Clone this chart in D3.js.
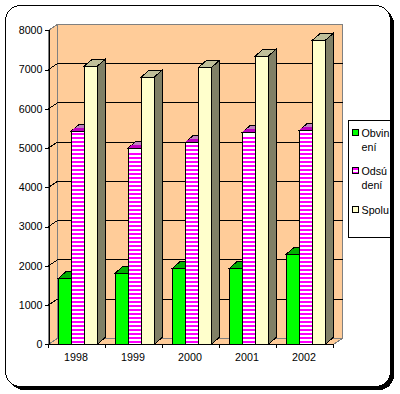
<!DOCTYPE html>
<html>
<head>
<meta charset="utf-8">
<script src="https://cdn.jsdelivr.net/npm/d3@7"></script>
<style>
  html, body { margin: 0; padding: 0; background: #fff; }
  svg { display: block; shape-rendering: crispEdges; }
  text { font-family: "Liberation Sans", Arial, sans-serif; font-size: 10.7px; fill: #000; }
</style>
</head>
<body>
<div class="canvas"></div>
<script>
// data
const years = ['1998', '1999', '2000', '2001', '2002'];
const seriesNames = ['Obvinení', 'Odsúdení', 'Spolu'];
const obvineni = [1680, 1815, 1935, 1935, 2295];
const odsudeni = [5430, 5000, 5145, 5400, 5450];
const spolu = [7085, 6810, 7050, 7345, 7745];
const yTicks = [0, 1000, 2000, 3000, 4000, 5000, 6000, 7000, 8000];

const svg = d3.select('.canvas')
  .append('svg')
    .attr('width', 400)
    .attr('height', 394);

// outer frame with its heavy shadow
svg.append('rect')
  .attr('x', 9).attr('y', 9)
  .attr('width', 385).attr('height', 381)
  .attr('rx', 15)
  .attr('fill', '#000');
svg.append('rect')
  .attr('x', 5.5).attr('y', 5.5)
  .attr('width', 385).attr('height', 381)
  .attr('rx', 15)
  .attr('fill', '#fff')
  .attr('stroke', '#000');

// 3d offset between the front plane and the back wall
const depthX = 9;
const depthY = 6;
const barDepthX = 8;
const barDepthY = 7;

const x = d3.scaleBand()
  .domain(years)
  .range([48.5, 333.5]);

const x1 = d3.scaleBand()
  .domain(seriesNames)
  .range([0, 39])
  .paddingInner(0);

const y = d3.scaleLinear()
  .domain([0, 8000])
  .range([344.3, 30.3]);

const graph = svg.append('g');
const line = d3.line();
const [x0, xEnd] = x.range();
const [yBase, yTop] = y.range();

// walls
graph.append('path')
  .attr('d', line([[x0 + depthX, yTop - depthY], [xEnd + depthX, yTop - depthY],
    [xEnd + depthX, yBase - depthY], [x0 + depthX, yBase - depthY]]) + 'Z')
  .attr('fill', '#ffcc99')
  .attr('stroke', '#808080');
graph.append('path')
  .attr('d', line([[x0, yTop], [x0 + depthX, yTop - depthY],
    [x0 + depthX, yBase - depthY], [x0, yBase]]) + 'Z')
  .attr('fill', '#ffcc99')
  .attr('stroke', '#808080');
graph.append('path')
  .attr('d', line([[x0, yBase], [x0 + depthX, yBase - depthY],
    [xEnd + depthX, yBase - depthY], [xEnd, yBase]]) + 'Z')
  .attr('fill', '#ffcc99')
  .attr('stroke', '#808080');

// gridlines on the walls
const grid = yTicks.slice(1, -1);
graph.selectAll('.grid')
  .data(grid)
  .enter().append('path')
    .attr('class', 'grid')
    .attr('fill', 'none')
    .attr('stroke', '#000')
    .attr('d', d => line([[x0, y(d)], [x0 + depthX, y(d) - depthY], [xEnd + depthX, y(d) - depthY]]));

// bars, left to right so each one covers the side of the one before
const seriesValues = [obvineni, odsudeni, spolu];
const fronts = ['#00ff00', '#fff', '#ffffcc'];
const tops = ['#00b000', '#bf80bf', '#bfbf99'];
const sides = ['#009900', '#990099', '#808066'];

const barData = [];
years.forEach((yr, i) => {
  seriesNames.forEach((name, j) => {
    barData.push({year: yr, name: name, value: seriesValues[j][i], s: j});
  });
});

const bars = graph.selectAll('.bar')
  .data(barData)
  .enter().append('g')
    .attr('class', 'bar')
    .attr('stroke', '#000');

const left = d => x(d.year) + 9.8 + x1(d.name);
const right = d => left(d) + x1.bandwidth();

bars.append('path')
  .attr('fill', d => sides[d.s])
  .attr('d', d => line([[right(d), y(d.value)], [right(d) + barDepthX, y(d.value) - barDepthY],
    [right(d) + barDepthX, yBase - barDepthY], [right(d), yBase]]) + 'Z');
bars.append('path')
  .attr('fill', d => tops[d.s])
  .attr('d', d => line([[left(d), y(d.value)], [left(d) + barDepthX, y(d.value) - barDepthY],
    [right(d) + barDepthX, y(d.value) - barDepthY], [right(d), y(d.value)]]) + 'Z');
// the striped bars have a darker front half on the top face
bars.filter(d => d.s === 1).append('path')
  .attr('fill', '#bf00bf')
  .attr('stroke', 'none')
  .attr('d', d => line([[left(d), y(d.value)], [left(d) + barDepthX * 0.45, y(d.value) - barDepthY * 0.45],
    [right(d) + barDepthX * 0.45, y(d.value) - barDepthY * 0.45], [right(d), y(d.value)]]) + 'Z');
bars.append('rect')
  .attr('x', left)
  .attr('y', d => y(d.value))
  .attr('width', x1.bandwidth())
  .attr('height', d => yBase - y(d.value))
  .attr('fill', d => fronts[d.s]);

// magenta stripes, 2px on and 2px off on a fixed pixel grid
const stripeRows = (top, bottom) => d3.range(Math.ceil(top), Math.floor(bottom)).filter(r => r % 4 === 1);
bars.filter(d => d.s === 1).selectAll('.stripe')
  .data(d => stripeRows(y(d.value) + 1, yBase - 1).map(r => ({row: r, bar: d})))
  .enter().append('rect')
    .attr('class', 'stripe')
    .attr('x', d => Math.round(left(d.bar)) + 1)
    .attr('y', d => d.row)
    .attr('width', Math.round(x1.bandwidth()) - 1)
    .attr('height', 2)
    .attr('fill', '#ff00ff')
    .attr('stroke', 'none');

// axes
const xAxis = d3.axisBottom(x).tickSize(0).tickPadding(9);
const yAxis = d3.axisLeft(y).tickValues(yTicks).tickSize(4).tickPadding(2).tickFormat(d3.format('d'));

const yAxisGroup = graph.append('g')
  .attr('transform', `translate(${x0}, 0)`)
  .call(yAxis);
const xAxisGroup = graph.append('g')
  .attr('transform', `translate(0, ${yBase})`)
  .call(xAxis);
xAxisGroup.selectAll('.tick text').attr('dx', -1);

// tick marks on the x axis sit between categories
xAxisGroup.selectAll('.edge')
  .data(years.concat('end'))
  .enter().append('line')
    .attr('class', 'edge')
    .attr('x1', (d, i) => x0 + i * x.step())
    .attr('x2', (d, i) => x0 + i * x.step())
    .attr('y1', 0)
    .attr('y2', 4)
    .attr('stroke', '#000');

// legend
const legendLines = [['Obvin', 'ení'], ['Odsú', 'dení'], ['Spolu']];
const legendFill = ['#00ff00', '#fff', '#ffffcc'];
const legendY = [129.5, 167.5, 206.5];

const legend = svg.append('g');
legend.append('rect')
  .attr('x', 348.5).attr('y', 120.5)
  .attr('width', 42).attr('height', 117)
  .attr('fill', '#fff')
  .attr('stroke', '#000');

const items = legend.selectAll('.item')
  .data(legendLines)
  .enter().append('g')
    .attr('class', 'item')
    .attr('transform', (d, i) => `translate(352.5, ${legendY[i]})`);
items.append('rect')
  .attr('width', 6).attr('height', 6)
  .attr('fill', (d, i) => legendFill[i])
  .attr('stroke', '#000');
// the middle swatch gets one magenta band top and bottom
items.filter((d, i) => i === 1).selectAll('.band')
  .data([0.5, 4])
  .enter().append('rect')
    .attr('class', 'band')
    .attr('x', 0.5)
    .attr('y', d => d)
    .attr('width', 5)
    .attr('height', 1.5)
    .attr('fill', '#ff00ff');
items.selectAll('text')
  .data(d => d)
  .enter().append('text')
    .attr('x', 9)
    .attr('y', (d, i) => 7.5 + i * 13.5)
    .text(d => d);
</script>
</body>
</html>
